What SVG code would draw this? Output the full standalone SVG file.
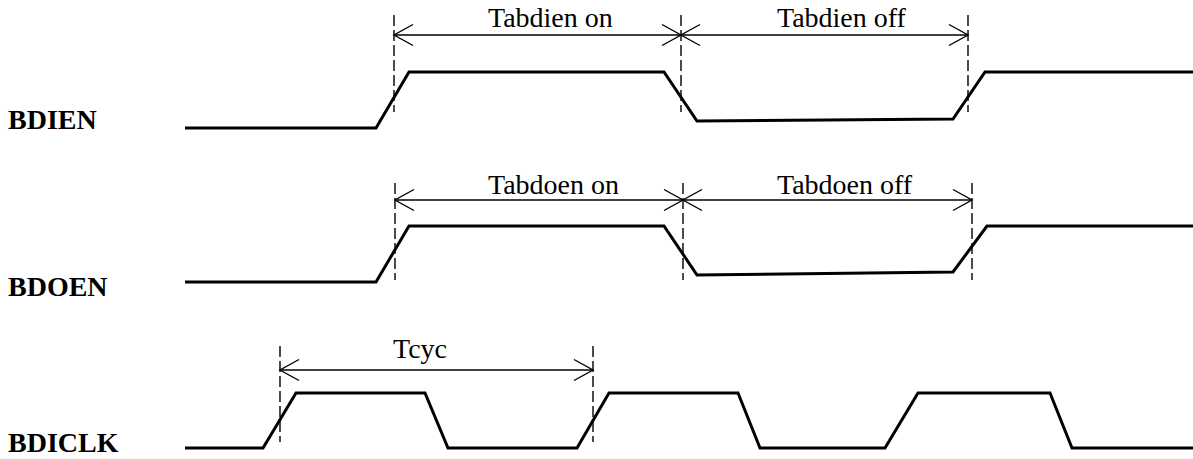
<svg xmlns="http://www.w3.org/2000/svg" width="1193" height="459" viewBox="0 0 1193 459">
<style>
.sig{fill:none;stroke:#000;stroke-width:3;stroke-linejoin:miter}
.dash{fill:none;stroke:#000;stroke-width:1.4;stroke-dasharray:11 4}
.dim{fill:none;stroke:#000;stroke-width:1.4;marker-start:url(#ah);marker-end:url(#ah)}
.lbl{font-family:"Liberation Serif","Times New Roman",serif;font-size:28px;font-weight:bold;fill:#000}
.dl{font-family:"Liberation Serif","Times New Roman",serif;font-size:28px;fill:#000}
</style>
<defs>
<marker id="ah" markerUnits="userSpaceOnUse" viewBox="-21 -12 23 24" refX="0" refY="0" markerWidth="23" markerHeight="24" orient="auto-start-reverse">
<path d="M-19,-10.5 L0,0 L-19,10.5" fill="none" stroke="#000" stroke-width="1.4"/>
</marker>
</defs>
<rect width="1193" height="459" fill="#fff"/>
<g id="bdien">
<text class="lbl" x="8" y="129">BDIEN</text>
<path class="sig" d="M185,128 L376,128 L409,72 L664,72 L697,121 L953,119 L985,72 L1193,72"/>
</g>
<g id="bdoen">
<text class="lbl" x="8" y="296">BDOEN</text>
<path class="sig" d="M185,282 L376,282 L409,226 L664,226 L697,275 L953,272 L987,226 L1193,226"/>
</g>
<g id="bdiclk">
<text class="lbl" x="8" y="452">BDICLK</text>
<path class="sig" d="M185,448 L263,448 L296,393 L425,393 L448,448 L577,448 L609,393 L738,393 L760,448 L885,448 L918,393 L1050,393 L1072,448 L1193,448"/>
</g>
<g id="connectors">
<path class="dash" d="M394,15 V112 M681,15 V112 M968,15 V112"/>
<path class="dash" d="M395,183 V280 M683,183 V280 M972,183 V280"/>
<path class="dash" d="M280,346 V442 M593,346 V442"/>
<path class="dim" d="M394,35 H681"/>
<path class="dim" d="M681,35 H968"/>
<path class="dim" d="M395,200 H683"/>
<path class="dim" d="M683,200 H972"/>
<path class="dim" d="M280,370 H593"/>
<text class="dl" x="488" y="27">Tabdien on</text>
<text class="dl" x="777" y="27">Tabdien off</text>
<text class="dl" x="488" y="194">Tabdoen on</text>
<text class="dl" x="777" y="194">Tabdoen off</text>
<text class="dl" x="393" y="358">Tcyc</text>
</g>
</svg>
